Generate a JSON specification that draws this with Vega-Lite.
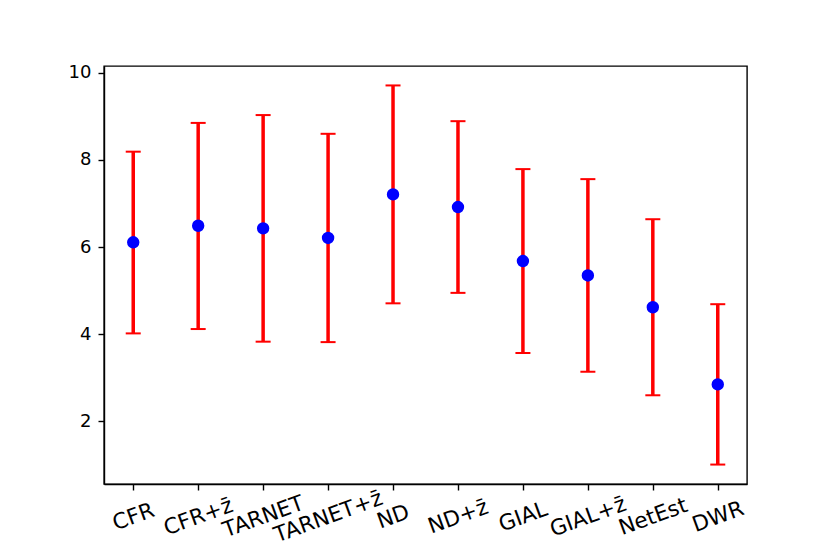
{
  "$schema": "https://vega.github.io/schema/vega-lite/v6.json",
  "autosize": {"type": "none"},
  "padding": {"left": 104, "top": 66, "right": 83, "bottom": 70},
  "width": 643,
  "height": 418,
  "background": "white",
  "config": {
    "view": {"stroke": "black", "strokeWidth": 1.4},
    "font": "DejaVu Sans",
    "axis": {
      "grid": false,
      "domainColor": "black",
      "domainWidth": 1.4,
      "tickColor": "black",
      "tickWidth": 1.4,
      "tickSize": 6,
      "labelFont": "DejaVu Sans",
      "labelFontSize": 18,
      "labelColor": "black",
      "title": null
    }
  },
  "data": {
    "values": [
      {"method": "CFR", "mean": 6.11, "lo": 4.02, "hi": 8.19},
      {"method": "CFR+z̄", "mean": 6.49, "lo": 4.12, "hi": 8.85},
      {"method": "TARNET", "mean": 6.43, "lo": 3.83, "hi": 9.03},
      {"method": "TARNET+z̄", "mean": 6.21, "lo": 3.82, "hi": 8.60},
      {"method": "ND", "mean": 7.21, "lo": 4.71, "hi": 9.71},
      {"method": "ND+z̄", "mean": 6.92, "lo": 4.95, "hi": 8.89},
      {"method": "GIAL", "mean": 5.68, "lo": 3.57, "hi": 7.79},
      {"method": "GIAL+z̄", "mean": 5.35, "lo": 3.14, "hi": 7.56},
      {"method": "NetEst", "mean": 4.62, "lo": 2.60, "hi": 6.64},
      {"method": "DWR", "mean": 2.85, "lo": 1.01, "hi": 4.69}
    ]
  },
  "encoding": {
    "x": {
      "field": "method",
      "type": "nominal",
      "sort": null,
      "scale": {"type": "point", "padding": 0.45},
      "axis": {
        "labelAngle": -20,
        "labelAlign": "center",
        "labelBaseline": "middle",
        "labelPadding": 27,
        "labelFontSize": 21.6,
        "labelOverlap": false,
        "encode": {
          "labels": {
            "update": {
              "dx": {"signal": "-0.342 * 2.0 * (length(replace(datum.label, '\u0304', '')) - 3)"},
              "dy": {"signal": "0.94 * 2.0 * (length(replace(datum.label, '\u0304', '')) - 3)"}
            }
          }
        }
      }
    }
  },
  "layer": [
    {
      "mark": {"type": "rule", "color": "#ff0000", "strokeWidth": 3.5},
      "encoding": {
        "y": {
          "field": "lo",
          "type": "quantitative",
          "scale": {"domain": [0.564, 10.156], "nice": false, "zero": false},
          "axis": {"values": [2, 4, 6, 8, 10], "labelPadding": 7, "labelFontSize": 18}
        },
        "y2": {"field": "hi"}
      }
    },
    {
      "mark": {"type": "tick", "color": "#ff0000", "size": 15, "thickness": 2, "opacity": 1},
      "encoding": {"y": {"field": "lo", "type": "quantitative"}}
    },
    {
      "mark": {"type": "tick", "color": "#ff0000", "size": 15, "thickness": 2, "opacity": 1},
      "encoding": {"y": {"field": "hi", "type": "quantitative"}}
    },
    {
      "mark": {"type": "circle", "color": "#0000ff", "size": 154, "opacity": 1},
      "encoding": {"y": {"field": "mean", "type": "quantitative"}}
    }
  ]
}
